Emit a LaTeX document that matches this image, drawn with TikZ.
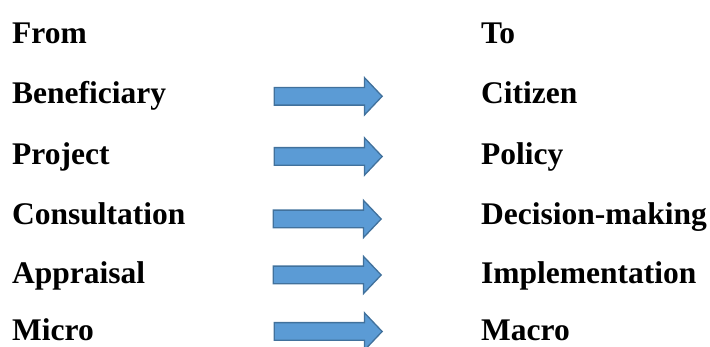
\documentclass[tikz,border=0pt]{standalone}
\usepackage{fontspec}
\setmainfont{Liberation Serif}
\usetikzlibrary{shapes.arrows}
\begin{document}
\begin{tikzpicture}[x=1pt,y=1pt,
  lbl/.style={anchor=base west, inner sep=0pt, font=\fontsize{31.5}{36}\selectfont\bfseries},
  blockarrow/.style={single arrow, draw=arrowedge, fill=arrowfill, line width=1.3pt,
    minimum height=108pt, inner sep=8.2pt, single arrow head extend=9.8pt,
    single arrow tip angle=93, anchor=tail}]
\definecolor{arrowfill}{HTML}{5B9BD5}
\definecolor{arrowedge}{HTML}{41719C}
\useasboundingbox (0,0) rectangle (710,-347);
\node[lbl] (from) at (12,-43.3) {From};
\node[lbl] (to) at (481,-43.3) {To};
\node[lbl] (f1) at (12,-103.5) {Beneficiary};
\node[lbl] (t1) at (481,-103.5) {Citizen};
\node[lbl] (f2) at (12,-164.3) {Project};
\node[lbl] (t2) at (481,-164.3) {Policy};
\node[lbl] (f3) at (12,-225) {Consultation};
\node[lbl] (t3) at (481,-225) {Decision-making};
\node[lbl] (f4) at (12,-283.5) {Appraisal};
\node[lbl] (t4) at (481,-283.5) {Implementation};
\node[lbl] (f5) at (12,-341) {Micro};
\node[lbl] (t5) at (481,-341) {Macro};
\node[blockarrow] (a1) at (273.5,-96.3) {};
\node[blockarrow] (a2) at (273.5,-156.5) {};
\node[blockarrow] (a3) at (272.5,-219) {};
\node[blockarrow] (a4) at (272.5,-275) {};
\node[blockarrow] (a5) at (273.5,-331.5) {};
\end{tikzpicture}
\end{document}
